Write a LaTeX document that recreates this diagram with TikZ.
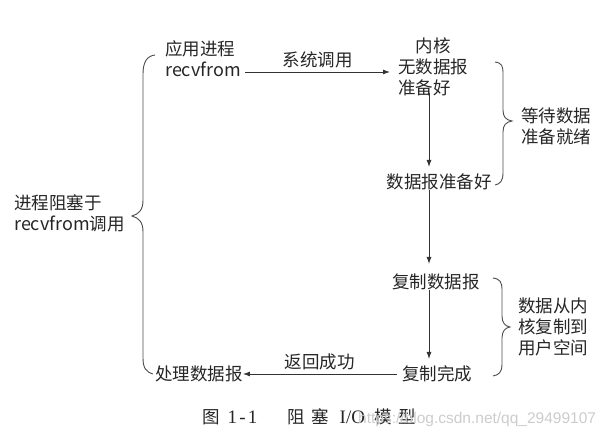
\documentclass[tikz,border=0pt]{standalone}
\usepackage{fontspec}
\setmainfont{Liberation Sans}
\newfontfamily\cjk{Noto Sans CJK SC}
\newfontfamily\serifl{Liberation Serif}
\usetikzlibrary{arrows.meta}
\tikzset{
  lbl/.style={font=\cjk\fontsize{17.5}{21}\selectfont, text=black!85, inner sep=0pt, align=center},
  lbll/.style={lbl, align=left},
  capt/.style={font=\cjk\fontsize{17.5}{20}\selectfont, text=black!85, anchor=west, inner sep=0pt},
  conn/.style={draw=black!80, line width=0.9pt, -{Latex[length=7pt,width=5pt]}},
  brc/.style={draw=black!70, line width=0.9pt}
}
\begin{document}
\begin{tikzpicture}[x=1pt,y=-1pt]
\useasboundingbox (0,0) rectangle (611,443);
% left column
\node[lbll, anchor=west] (app) at (165,59) {应用进程\\{\fontsize{18}{21}\selectfont recvfrom}};
\coordinate (appR) at (245,72);
\node[lbl] (proc) at (199,374) {处理数据报};
% kernel column
\node[lbll, anchor=north west] (kern) at (398,38) {\hspace*{1em}内核\\无数据报\\准备好};
\coordinate (kernL) at (390,72);
\node[lbl] (ready) at (439,182) {数据报准备好};
\node[lbl] (copy) at (436,282) {复制数据报};
\node[lbl] (done) at (437,374) {复制完成};
\coordinate (k1) at (429,93);
\coordinate (k2) at (429,290);
\coordinate (k3) at (397,374);
% arrows
\draw[conn] (appR) -- node[lbl, above=4pt] (sys) {系统调用} (kernL);
\draw[conn] (k1) -- (429,167);
\draw[draw=black!80, line width=0.9pt] (ready.south -| k1) -- (429,190);
\draw[conn] (429,190) -- (429,264);
\draw[conn] (k2) -- (429,359);
\draw[conn] (k3) -- node[lbl, above=4pt] (ret) {返回成功} (proc.east);
% right brace 1
\draw[brc] (495,62) .. controls (502,63) and (503,66) .. (503,74)
  -- (503,110) .. controls (503,117) and (506,120) .. (512,121)
  .. controls (506,122) and (503,125) .. (503,132)
  -- (503,173) .. controls (503,181) and (500,184) .. (495,185);
\node[lbll, anchor=west] (wait) at (521,126) {等待数据\\准备就绪};
% right brace 2
\draw[brc] (493,278) .. controls (500,279) and (502,282) .. (502,290)
  -- (502,316) .. controls (502,323) and (505,326) .. (510,327)
  .. controls (505,328) and (502,331) .. (502,338)
  -- (502,364) .. controls (502,372) and (499,375) .. (493,376);
\node[lbll, anchor=west] (copyk) at (518,327) {数据从内\\核复制到\\用户空间};
% left brace
\draw[brc] (155,55) .. controls (147,56) and (143,62) .. (143,74)
  -- (143,200) .. controls (143,210) and (139,214) .. (132,216)
  .. controls (139,218) and (143,222) .. (143,232)
  -- (143,358) .. controls (143,368) and (146,372) .. (153,374);
\node[lbll, anchor=west] (blk) at (14,213) {进程阻塞于\\{\fontsize{18}{21}\selectfont recvfrom}调用};
% caption
\node[capt] (cap1) at (202,417) {图\hspace{0.45em}{\serifl\fontsize{19}{20}\selectfont 1\hspace{0.12em}-\hspace{0.12em}1}};
\node[capt] (cap2) at (287,417) {阻\hspace{0.4em}塞\hspace{0.6em}{\serifl\fontsize{19}{20}\selectfont I/O}\hspace{0.55em}模\hspace{0.35em}型};
\node[font=\fontsize{15.5}{19}\selectfont, text=black!20, anchor=west, inner sep=0pt] (wm) at (358,419) {https://blog.csdn.net/qq\_29499107};
\end{tikzpicture}
\end{document}
